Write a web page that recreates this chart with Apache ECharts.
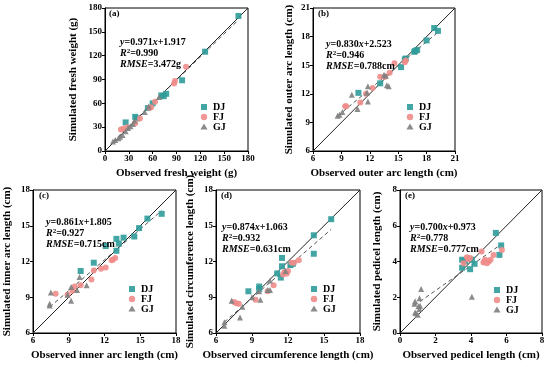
<!DOCTYPE html>
<html><head><meta charset="utf-8">
<script src="https://cdn.jsdelivr.net/npm/echarts@6/dist/echarts.min.js"></script>
<style>html,body{margin:0;padding:0;background:#fff}#c{width:550px;height:367px}</style>
</head><body><div id="c"></div>
<script>
// ---------- data ----------
const groups = ['DJ', 'FJ', 'GJ'];
const panelLabels = ['(a)', '(b)', '(c)', '(d)', '(e)'];
const xTitles = ['Observed fresh weight (g)', 'Observed outer arc length (cm)', 'Observed inner arc length (cm)', 'Observed circumference length (cm)', 'Observed pedicel length (cm)'];
const yTitles = ['Simulated fresh weight (g)', 'Simulated outer arc length (cm)', 'Simulated inner arc length (cm)', 'Simulated circumference length (cm)', 'Simulated pedicel length (cm)'];
const axisMin = [0, 6, 6, 6, 0];
const axisMax = [180, 21, 18, 18, 8];
const axisStep = [30, 3, 3, 3, 2];
const slopes = [0.971, 0.830, 0.861, 0.874, 0.700];
const intercepts = [1.917, 2.523, 1.805, 1.063, 0.973];
const fitXRange = [[10, 168], [8.6, 19.2], [7.4, 16.8], [6.7, 15.6], [0.8, 5.7]];
const eqTexts = ['0.971', '0.830', '0.861', '0.874', '0.700'];
const eqIntercepts = ['1.917', '2.523', '1.805', '1.063', '0.973'];
const r2Texts = ['0.990', '0.946', '0.927', '0.932', '0.778'];
const rmseTexts = ['3.472g', '0.788cm', '0.715cm', '0.631cm', '0.777cm'];

const aDJ = [[26,36],[38,43],[40,41],[54,54],[60,60],[71,70],[74,69],[77,72],[97,89],[126,125],[168,170]];
const aFJ = [[20,27],[23,28],[28,30],[38,35],[44,41],[56,54],[58,55],[63,62],[87,85],[88,88],[102,106]];
const aGJ = [[10,12],[13,14],[17,16],[19,18],[22,20],[26,25],[29,29],[32,31],[35,34],[37,38],[50,49],[55,56],[68,68]];

const bDJ = [[10.8,12.1],[13.1,13.1],[15.3,14.8],[15.7,15.6],[15.8,15.7],[16.7,16.4],[16.8,16.5],[17.0,16.6],[18.0,17.6],[18.8,18.9],[19.2,18.6]];
const bFJ = [[9.4,10.7],[9.5,10.7],[11.0,11.1],[11.6,12.0],[12.3,12.6],[13.1,13.8],[13.6,13.8],[14.1,14.2],[14.6,15.2],[15.7,15.3],[15.8,15.5]];
const bGJ = [[8.6,9.7],[8.8,9.8],[9.1,10.1],[10.1,11.9],[10.7,10.4],[11.7,12.1],[11.8,11.2],[11.8,12.8],[13.5,14.0],[13.7,13.9],[13.8,12.9],[14.0,12.8]];

const cDJ = [[16.8,16.0],[15.6,15.6],[14.9,14.8],[14.5,14.1],[13.6,14.0],[13.0,13.9],[13.2,13.5],[13.0,12.9],[12.1,13.3],[11.1,11.9],[10.0,11.2]];
const cFJ = [[12.9,12.3],[12.7,12.15],[12.6,12.1],[12.1,11.5],[11.7,11.4],[11.1,11.25],[10.9,10.5],[10.0,10.0],[9.3,9.55],[8.9,9.2],[7.9,9.3],[9.5,9.9]];
const cGJ = [[7.5,9.4],[7.4,8.45],[7.4,8.3],[9.9,10.7],[10.5,10.0],[9.2,9.85],[9.2,8.7],[8.9,9.2],[9.7,9.6]];

const dDJ = [[15.6,15.55],[14.15,14.2],[14.15,12.65],[11.5,11.6],[11.1,11.0],[11.4,10.65],[12.2,11.7],[12.4,11.8],[9.6,9.9],[9.6,9.7],[8.7,9.5],[11.5,12.3]];
const dFJ = [[7.5,8.6],[7.7,8.5],[7.9,8.45],[9.3,8.8],[10.3,9.5],[10.8,10.0],[11.6,10.9],[11.9,11.0],[12.0,11.2],[12.3,11.9],[12.5,11.9],[12.9,12.1],[11.7,11.1]];
const dGJ = [[6.7,6.9],[6.7,6.6],[7.3,8.7],[8.0,7.3],[8.2,8.2],[9.0,9.0],[9.7,8.8],[10.3,9.6],[10.5,9.6],[10.5,10.4],[11.8,11.2],[9.6,9.5]];

const eDJ = [[5.4,5.6],[5.7,4.9],[5.6,4.37],[3.5,4.1],[3.5,3.65],[3.67,4.0],[3.95,3.57],[4.2,3.87],[4.05,4.1]];
const eFJ = [[3.77,4.24],[3.86,4.13],[3.95,4.2],[4.8,4.1],[4.7,3.94],[5.0,4.0],[5.1,4.1],[5.74,4.65],[4.6,4.56],[5.27,4.37],[4.9,3.9],[3.58,3.9],[4.75,4.0]];
const eGJ = [[1.19,2.46],[1.1,1.95],[0.85,1.77],[0.81,1.64],[1.04,1.49],[1.1,1.34],[0.85,1.15],[1.0,1.02],[0.9,1.1],[1.13,1.53],[4.05,2.03]];

const panelData = [[aDJ,aFJ,aGJ],[bDJ,bFJ,bGJ],[cDJ,cFJ,cGJ],[dDJ,dFJ,dGJ],[eDJ,eFJ,eGJ]];

// ---------- layout / style ----------
const FONT = 'Liberation Serif';
const grids = [
  {left:105, top:8, width:143, height:143},
  {left:313, top:8, width:142, height:143},
  {left:33, top:190, width:143, height:143},
  {left:216, top:190, width:144, height:143},
  {left:400, top:190, width:142, height:143}
];
const yNameGap = [26, 18, 20, 20, 17];
const colors = ['#2f9c9a', '#f08c8a', '#808080'];
const symbols = ['rect', 'circle', 'triangle'];
const textPos = [[120,37],[326,39],[46,217],[222,222],[410,222]];
const labelPos = [[109,9],[318,9],[39,191],[221,191],[405,191]];
const legendPos = [[204,107],[410,107],[132,289],[314,289],[497,290]]; // centre of first key marker
const legendRowGap = 10;

const option = {
  animation: false,
  backgroundColor: '#fff',
  grid: grids.map(g => Object.assign({show:true, borderColor:'#000', borderWidth:1, backgroundColor:'transparent'}, g)),
  xAxis: [], yAxis: [], series: [], graphic: []
};

const axisLabelStyle = {fontFamily: FONT, fontWeight: 'bold', fontSize: 9, color: '#000'};
const nameStyle = {fontFamily: FONT, fontWeight: 'bold', fontSize: 11, color: '#000'};

function keyMarker(g, cx, cy) {
  const st = {fill: colors[g], opacity: 0.9};
  if (g === 0) return {type:'rect', shape:{x:cx-3, y:cy-3, width:6, height:6}, style:st, z:10};
  if (g === 1) return {type:'circle', shape:{cx:cx, cy:cy, r:3.2}, style:st, z:10};
  return {type:'polygon', shape:{points:[[cx,cy-3.5],[cx+3.6,cy+2.6],[cx-3.6,cy+2.6]]}, style:st, z:10};
}

for (let i = 0; i < 5; i++) {
  const common = {
    gridIndex: i, type: 'value', min: axisMin[i], max: axisMax[i], interval: axisStep[i],
    axisLine: {show:true, onZero:false, lineStyle:{color:'#000', width:1}},
    axisTick: {show:true, inside:false, length:3, lineStyle:{color:'#000'}},
    splitLine: {show:false},
    nameLocation: 'middle', nameTextStyle: nameStyle
  };
  option.xAxis.push(Object.assign({}, common, {name: xTitles[i], nameGap: 17, axisLabel: Object.assign({margin:3}, axisLabelStyle)}));
  option.yAxis.push(Object.assign({}, common, {name: yTitles[i], nameGap: yNameGap[i], axisLabel: Object.assign({margin:3}, axisLabelStyle)}));

  // 1:1 line
  option.series.push({type:'line', xAxisIndex:i, yAxisIndex:i, data:[[axisMin[i],axisMin[i]],[axisMax[i],axisMax[i]]],
    symbol:'none', lineStyle:{color:'#222', width:1}, silent:true, z:1});
  // fit line
  const fx = fitXRange[i];
  option.series.push({type:'line', xAxisIndex:i, yAxisIndex:i,
    data: fx.map(x => [x, slopes[i]*x + intercepts[i]]),
    symbol:'none', lineStyle:{color:'#555', width:1, type:[4,3]}, silent:true, z:1});
  for (let g = 0; g < 3; g++) {
    option.series.push({type:'scatter', name: groups[g], xAxisIndex:i, yAxisIndex:i, data: panelData[i][g],
      symbol: symbols[g], symbolSize: 6,
      itemStyle:{color: colors[g], opacity: 0.9}, z:3});
    const cx = legendPos[i][0], cy = legendPos[i][1] + g * legendRowGap;
    option.graphic.push(keyMarker(g, cx, cy));
    option.graphic.push({type:'text', x: cx + 9, y: cy, z:10,
      style:{text: groups[g], fontFamily: FONT, fontWeight:'bold', fontSize:10, fill:'#000', verticalAlign:'middle', align:'left'}});
  }
  const rich = {
    n: {fontFamily: FONT, fontWeight:'bold', fontSize:10, fill:'#000'},
    i: {fontFamily: FONT, fontWeight:'bold', fontStyle:'italic', fontSize:10, fill:'#000'},
    s: {fontFamily: FONT, fontWeight:'bold', fontSize:7, fill:'#000', verticalAlign:'top'}
  };
  option.graphic.push({type:'text', left: textPos[i][0], top: textPos[i][1], z:10,
    style:{text: '{i|y}{n|=' + eqTexts[i] + '}{i|x}{n|+' + eqIntercepts[i] + '}\n{i|R}{s|2}{n|=' + r2Texts[i] + '}\n{i|RMSE}{n|=' + rmseTexts[i] + '}',
      rich: rich, lineHeight: 11, fill:'#000'}});
  option.graphic.push({type:'text', left: labelPos[i][0], top: labelPos[i][1], z:10,
    style:{text: panelLabels[i], fontFamily: FONT, fontWeight:'bold', fontSize:9, fill:'#000'}});
}

const chart = echarts.init(document.getElementById('c'), null, {renderer:'canvas'});
chart.setOption(option);
</script></body></html>
